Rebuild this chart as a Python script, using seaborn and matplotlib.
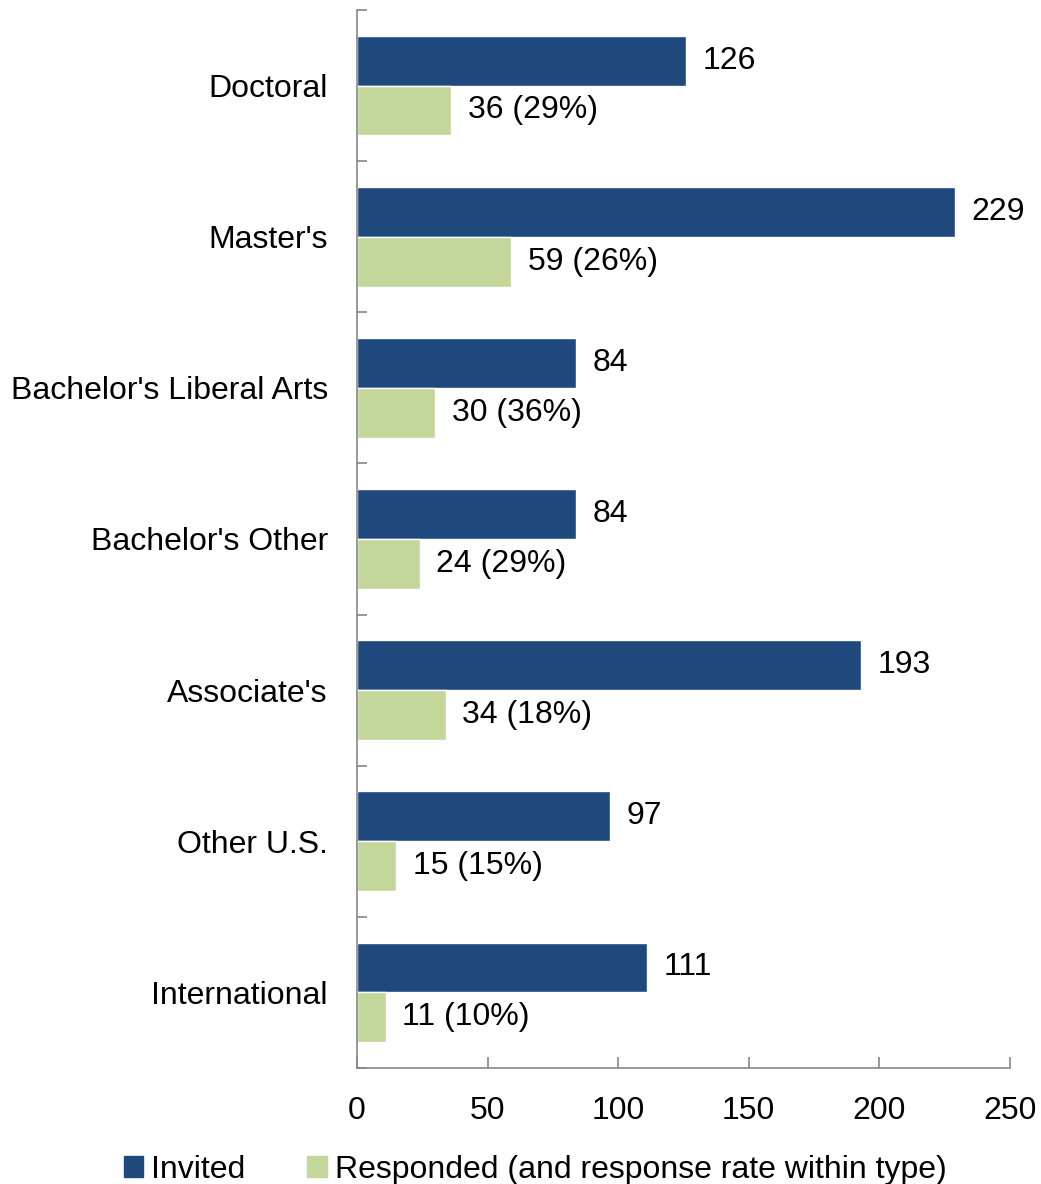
import matplotlib.pyplot as plt
import seaborn as sns
import pandas as pd
from matplotlib.patches import Patch

categories = ["Doctoral", "Master's", "Bachelor's Liberal Arts", "Bachelor's Other",
              "Associate's", "Other U.S.", "International"]
invited = [126, 229, 84, 84, 193, 97, 111]
responded = [36, 59, 30, 24, 34, 15, 11]
rates = [29, 26, 36, 29, 18, 15, 10]
series = ["Invited", "Responded (and response rate within type)"]
colors = ["#1F497D", "#C4D79B"]

df = pd.DataFrame({
    "Type": categories * 2,
    "Count": invited + responded,
    "Series": [series[0]] * len(categories) + [series[1]] * len(categories),
})

sns.set_style("white")
plt.rcParams["font.family"] = ["Liberation Sans", "DejaVu Sans"]
plt.rcParams["text.color"] = "black"
plt.rcParams["xtick.labelcolor"] = "black"
plt.rcParams["ytick.labelcolor"] = "black"

fig = plt.figure(figsize=(10.41, 11.84), dpi=100)
ax = fig.add_axes([0.343, 0.098, 0.627, 0.8936])
sns.barplot(data=df, y="Type", x="Count", hue="Series", palette=colors,
            width=0.66, ax=ax, legend=False, saturation=1)

ax.bar_label(ax.containers[0], labels=[str(v) for v in invited], padding=12, fontsize=23)
ax.bar_label(ax.containers[1], labels=[f"{v} ({r}%)" for v, r in zip(responded, rates)],
             padding=12, fontsize=23)

ax.set_xlim(0, 250)
ax.set_ylim(len(categories) - 0.5, -0.5)
ax.set_xticks([0, 50, 100, 150, 200, 250])
ax.set_xlabel("")
ax.set_ylabel("")
ax.tick_params(axis="x", bottom=True, direction="in", length=8, width=1.2,
               color="#868686", labelsize=23, pad=20)
ax.tick_params(axis="y", which="major", left=True, length=0, labelsize=23, pad=21)
ax.set_yticks([i - 0.5 for i in range(len(categories) + 1)], minor=True)
ax.tick_params(axis="y", which="minor", left=True, direction="in", length=7, width=1.2,
               color="#868686")

for s in ["top", "right"]:
    ax.spines[s].set_visible(False)
for s in ["left", "bottom"]:
    ax.spines[s].set_color("#868686")
    ax.spines[s].set_linewidth(1.2)

handles = [Patch(color=c, label=l) for c, l in zip(colors, series)]
fig.legend(handles=handles, loc="lower center", bbox_to_anchor=(0.514, -0.025), ncol=2,
           frameon=False, fontsize=23, handlelength=0.6, handleheight=0.6,
           handletextpad=0.25, columnspacing=1.95)

fig.savefig("out.png", dpi=100)
